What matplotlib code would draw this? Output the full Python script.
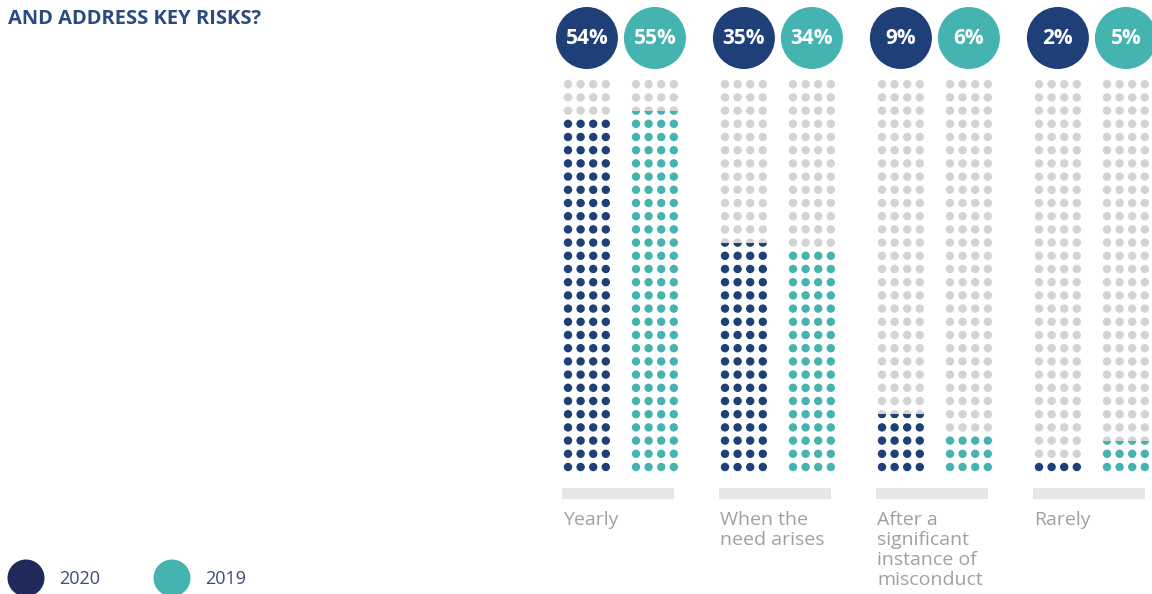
import matplotlib
matplotlib.use("Agg")
import matplotlib.pyplot as plt
from matplotlib.patches import Circle, Rectangle

plt.rcParams['font.family'] = ['Open Sans', 'DejaVu Sans']

# 資料
categories = ["Yearly", "When the\nneed arises", "After a\nsignificant\ninstance of\nmisconduct", "Rarely"]
values_2020 = [54, 35, 9, 2]
values_2019 = [55, 34, 6, 5]
years = ["2020", "2019"]

# 顏色
navy = "#1f3f78"
teal = "#45b4b0"
legend_navy = "#1f2a5a"
gray_dot = "#d3d3d3"

# 版面參數 (像素)
W, H = 1152, 594
n_cols, n_rows = 4, 30
pct_per_row = 2.0
dx, dy = 12.6, 13.2
r_dot = 4.2
x0 = 568
cat_step = 157
year_step = 68
y_bottom = 467

fig = plt.figure(figsize=(W / 100, H / 100), dpi=100)
ax = fig.add_axes([0, 0, 1, 1])
ax.set_xlim(0, W)
ax.set_ylim(H, 0)
ax.axis('off')


def draw_column(xs, value, color):
    rows = value / pct_per_row
    full = int(rows)
    frac = rows - full
    for r in range(n_rows):
        y = y_bottom - r * dy
        for c in range(n_cols):
            x = xs + c * dx
            if r < full:
                ax.add_patch(Circle((x, y), r_dot, color=color, lw=0))
            else:
                ax.add_patch(Circle((x, y), r_dot, color=gray_dot, lw=0))
                if r == full and frac > 0:
                    # 部分填色 (下半部)
                    clip = Rectangle((x - r_dot, y + r_dot - 2 * r_dot * frac), 2 * r_dot, 2 * r_dot * frac,
                                     transform=ax.transData)
                    p = Circle((x, y), r_dot, color=color, lw=0)
                    ax.add_patch(p)
                    p.set_clip_path(clip)


for i, cat in enumerate(categories):
    base = x0 + i * cat_step
    for j, (vals, col) in enumerate([(values_2020, navy), (values_2019, teal)]):
        xs = base + j * year_step
        draw_column(xs, vals[i], col)
        cx = xs + (n_cols - 1) * dx / 2
        ax.add_patch(Circle((cx, 38), 31, color=col, lw=0))
        ax.text(cx, 38, f"{vals[i]}%", color="white", fontsize=15, fontweight='bold',
                ha='center', va='center')
    ax.add_patch(Rectangle((base - 6, 488), 112, 11, color="#e6e6e6", lw=0))
    ax.text(base - 5, 511, cat, color="#a0a0a0", fontsize=14, ha='left', va='top',
            linespacing=1.14)

ax.text(8, 19, "AND ADDRESS KEY RISKS?", color="#2b4a80", fontsize=14.5, fontweight='bold',
        ha='left', va='center')

# 圖例
for k, (yr, col, lx) in enumerate(zip(years, [legend_navy, teal], [26, 172])):
    ax.add_patch(Circle((lx, 578), 18.5, color=col, lw=0))
    ax.text(lx + 33, 579, yr, color="#3b4a78", fontsize=13, ha='left', va='center')

fig.savefig("out.png", dpi=100)
